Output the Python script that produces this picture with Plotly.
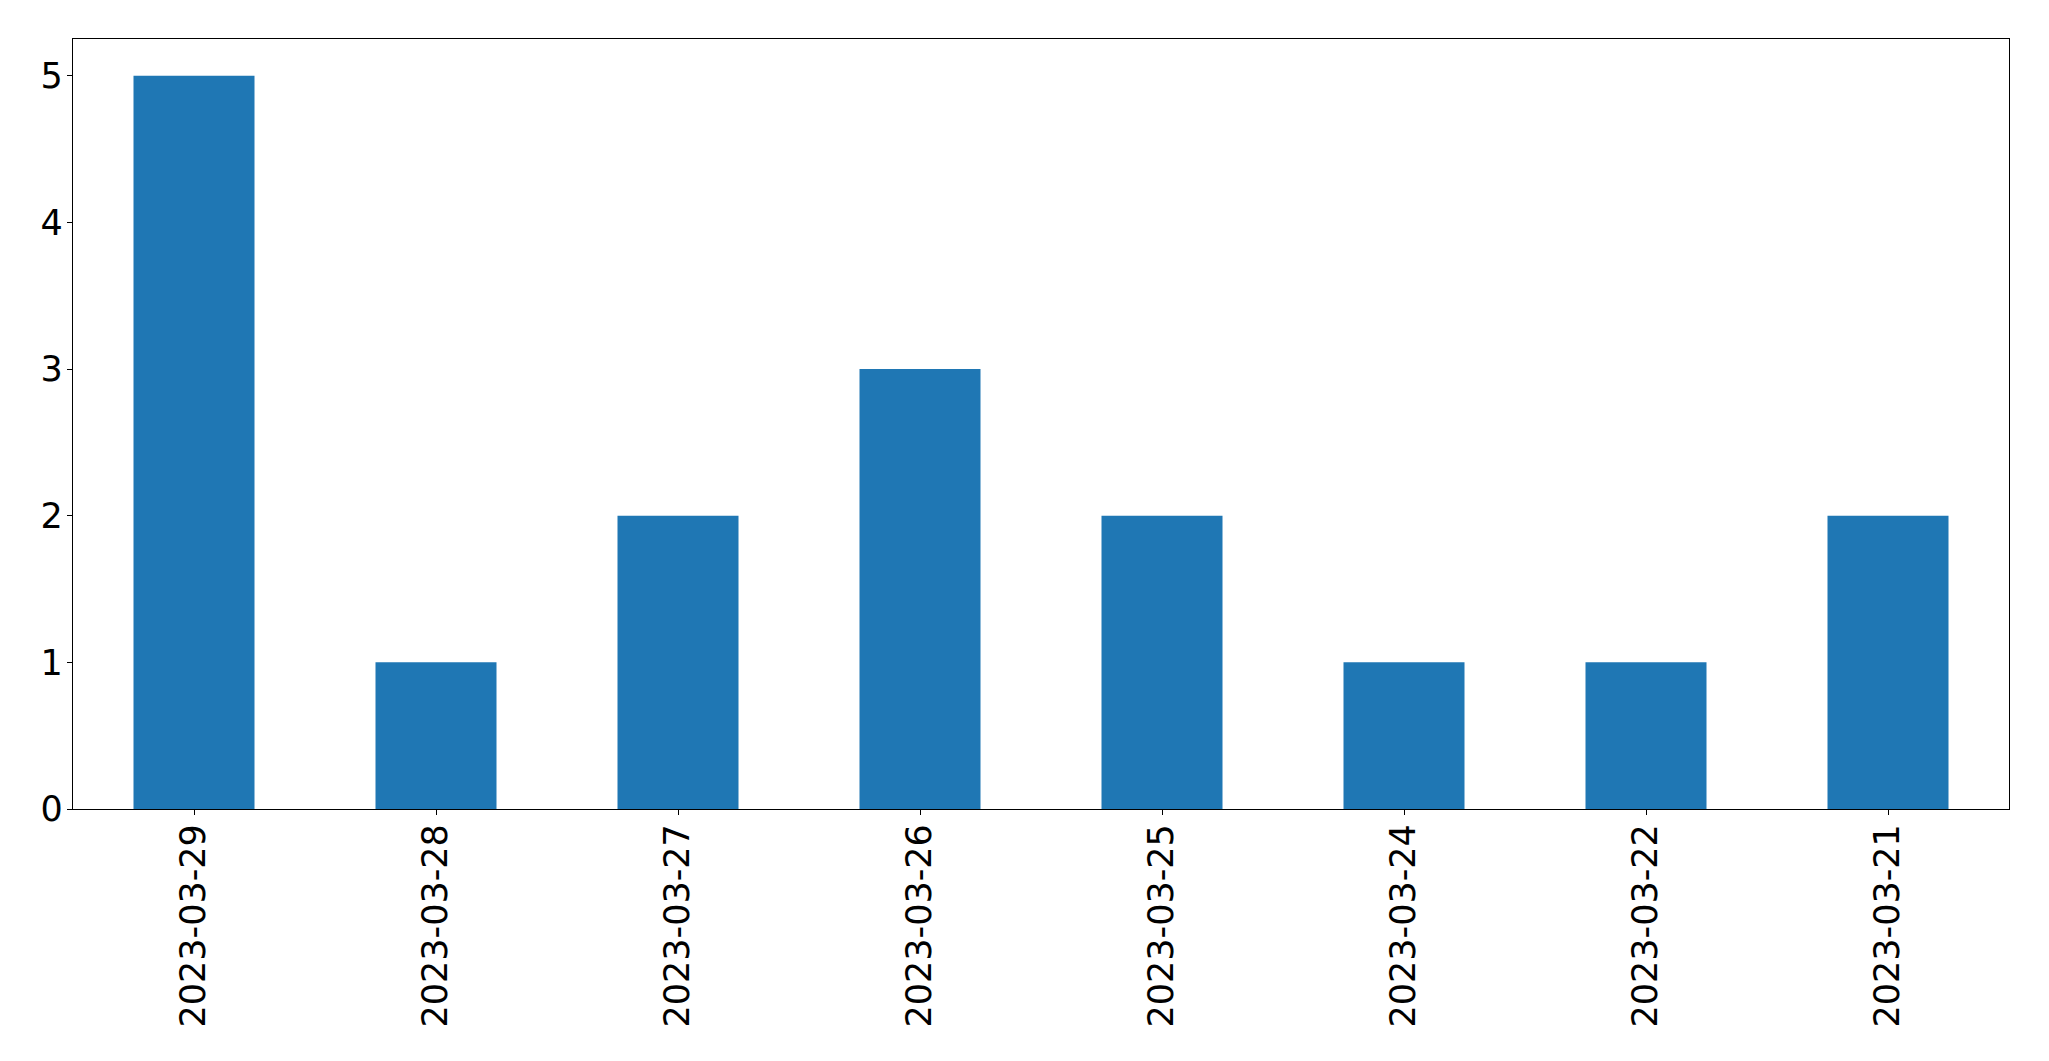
import plotly.graph_objects as go

dates = ["2023-03-29", "2023-03-28", "2023-03-27", "2023-03-26",
         "2023-03-25", "2023-03-24", "2023-03-22", "2023-03-21"]
counts = [5, 1, 2, 3, 2, 1, 1, 2]
y_ticks = [0, 1, 2, 3, 4, 5]

fig = go.Figure(go.Bar(x=dates, y=counts, width=0.5, marker_color="#1f77b4",
                       marker_line_width=0))

font = dict(family="DejaVu Sans", size=35, color="black")
# the page body adds an 8px offset; compensate in size/margins
fig.update_layout(
    width=2041, height=1053,
    margin=dict(l=65, r=40, t=31, b=252),
    paper_bgcolor="white", plot_bgcolor="white",
    font=font, showlegend=False,
    xaxis=dict(type="category", range=[-0.5, 7.5], tickangle=-90,
               showline=True, linecolor="black", linewidth=1.3, mirror=True,
               ticks="outside", ticklen=5, tickcolor="black", tickwidth=1.3,
               ticklabelstandoff=-5,
               showgrid=False, zeroline=False, tickfont=font),
    yaxis=dict(range=[0, 5.25], tickvals=y_ticks,
               showline=True, linecolor="black", linewidth=1.3, mirror=True,
               ticks="outside", ticklen=5, tickcolor="black", tickwidth=1.3,
               ticklabelstandoff=-3,
               showgrid=False, zeroline=False, tickfont=font),
)
fig.write_html("out.html")
